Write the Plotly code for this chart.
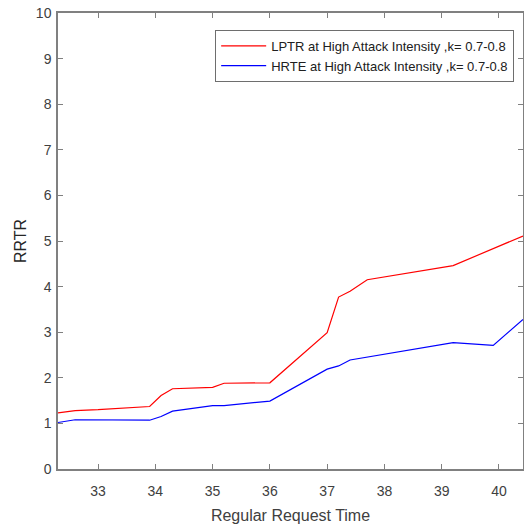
import plotly.graph_objects as go

lptr_x = [32.3, 32.6, 33.0, 33.9, 34.1, 34.3, 35.0, 35.2, 36.0, 37.0, 37.2, 37.4, 37.7, 39.2, 40.42]
lptr_y = [1.23, 1.28, 1.30, 1.37, 1.61, 1.76, 1.79, 1.88, 1.89, 2.99, 3.77, 3.90, 4.15, 4.46, 5.11]

hrte_x = [32.3, 32.6, 33.9, 34.1, 34.3, 35.0, 35.2, 36.0, 37.0, 37.2, 37.4, 39.2, 39.9, 40.42]
hrte_y = [1.02, 1.08, 1.07, 1.15, 1.27, 1.39, 1.39, 1.49, 2.19, 2.26, 2.39, 2.77, 2.71, 3.28]

x_ticks = [33, 34, 35, 36, 37, 38, 39, 40]
y_ticks = [0, 1, 2, 3, 4, 5, 6, 7, 8, 9, 10]

fig = go.Figure()
fig.add_trace(go.Scatter(x=lptr_x, y=lptr_y, mode="lines",
                         line=dict(color="#ff0000", width=1.2),
                         name="LPTR at High Attack Intensity ,k= 0.7-0.8"))
fig.add_trace(go.Scatter(x=hrte_x, y=hrte_y, mode="lines",
                         line=dict(color="#0000ff", width=1.2),
                         name="HRTE at High Attack Intensity ,k= 0.7-0.8"))

axis_common = dict(showline=True, linecolor="#808080", linewidth=1.5, mirror="ticks",
                   ticks="inside", ticklen=5, tickcolor="#808080", tickwidth=1.2,
                   showgrid=False, zeroline=False, automargin=False,
                   ticklabeloverflow="allow",
                   tickfont=dict(family="Liberation Sans, Arial", size=14, color="#404040"))

fig.update_layout(
    width=524, height=527,
    margin=dict(l=58, r=1, t=13, b=58, autoexpand=False),
    paper_bgcolor="white", plot_bgcolor="white",
    font=dict(family="Liberation Sans, Arial", color="#262626"),
    xaxis=dict(range=[32.3, 40.42], tickvals=x_ticks, ticklabelstandoff=8,
               title=dict(text="Regular Request Time", font=dict(size=16, color="#404040"), standoff=12),
               **axis_common),
    yaxis=dict(range=[0, 10], tickvals=y_ticks, ticklabelstandoff=2,
               title=dict(text="RRTR", font=dict(size=16, color="#262626"), standoff=5),
               **axis_common),
    legend=dict(x=0.338, y=0.963, xanchor="left", yanchor="top",
                bgcolor="white", bordercolor="#6e6e6e", borderwidth=1, itemwidth=45,
                font=dict(family="Liberation Sans, Arial", size=13, color="#202020")),
    showlegend=True,
)

fig.write_html("out.html", config={"displayModeBar": False},
               post_script="document.body.style.margin='0';document.body.style.overflow='hidden';")
